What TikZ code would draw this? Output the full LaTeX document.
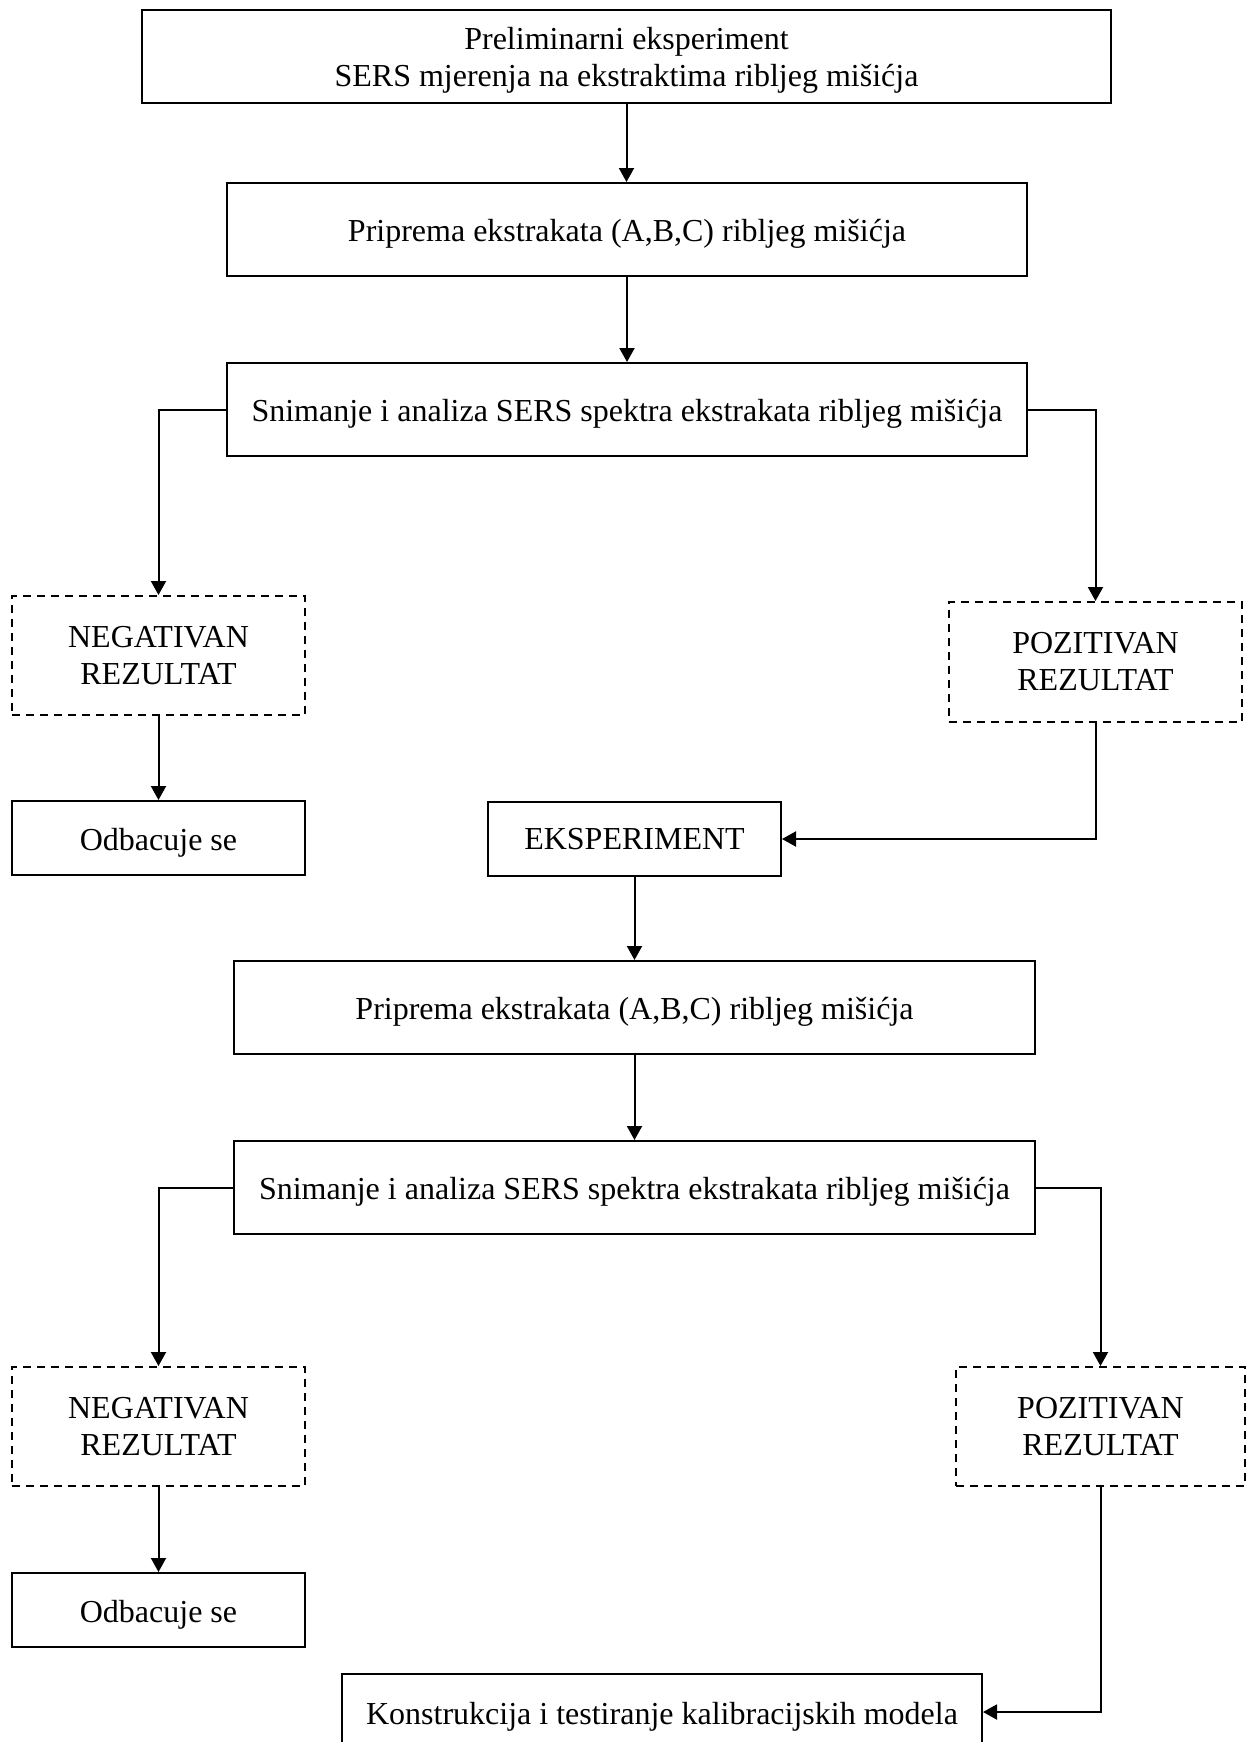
\documentclass[tikz,border=0pt]{standalone}
\usepackage{fontspec}
\setmainfont{Liberation Serif}
\usetikzlibrary{arrows.meta}
\begin{document}
\begin{tikzpicture}[x=0.5pt,y=-0.5pt,
  box/.style={draw, line width=1pt, inner sep=0pt, align=center, font=\fontsize{16}{18.5}\selectfont},
  dbox/.style={box, dashed, dash pattern=on 4pt off 3pt},
  low/.style={text height=15.5pt, text depth=3.5pt},
  arr/.style={draw, line width=1pt, -{Triangle[length=7pt,width=7.5pt]}}]
\useasboundingbox (0,0) rectangle (1247,1742);
\node[box, minimum width=484.5pt, minimum height=46.5pt, text depth=-1pt] (top) at (626.5,56.5) {Preliminarni eksperiment\\SERS mjerenja na ekstraktima ribljeg mišićja};
\node[box, low, minimum width=400pt, minimum height=46.5pt] (prip1) at (627,229.5) {Priprema ekstrakata (A,B,C) ribljeg mišićja};
\node[box, low, minimum width=400pt, minimum height=46.5pt] (snim1) at (627,409.5) {Snimanje i analiza SERS spektra ekstrakata ribljeg mišićja};
\node[dbox, minimum width=146.5pt, minimum height=59.5pt] (neg1) at (158.5,655.5) {NEGATIVAN\\REZULTAT};
\node[box, low, minimum width=146.5pt, minimum height=37pt] (odb1) at (158.5,838) {Odbacuje se};
\node[dbox, minimum width=146.5pt, minimum height=60pt] (poz1) at (1095.5,662) {POZITIVAN\\REZULTAT};
\node[box, minimum width=146.5pt, minimum height=37pt] (eks) at (634.5,839) {EKSPERIMENT};
\node[box, low, minimum width=400.5pt, minimum height=46.5pt] (prip2) at (634.5,1007.5) {Priprema ekstrakata (A,B,C) ribljeg mišićja};
\node[box, low, minimum width=400.5pt, minimum height=46.5pt] (snim2) at (634.5,1187.5) {Snimanje i analiza SERS spektra ekstrakata ribljeg mišićja};
\node[dbox, minimum width=146.5pt, minimum height=59.5pt] (neg2) at (158.5,1426.5) {NEGATIVAN\\REZULTAT};
\node[dbox, minimum width=144.5pt, minimum height=59.5pt] (poz2) at (1100.5,1426.5) {POZITIVAN\\REZULTAT};
\node[box, low, minimum width=146.5pt, minimum height=37pt] (odb2) at (158.5,1610) {Odbacuje se};
\node[box, low, minimum width=320pt, minimum height=38pt] (kon) at (662,1712) {Konstrukcija i testiranje kalibracijskih modela};
\draw[arr] (top.south) -- (top.south |- prip1.north);
\draw[arr] (prip1.south) -- (snim1.north);
\draw[arr] (snim1.west) -| (neg1.north);
\draw[arr] (snim1.east) -| (poz1.north);
\draw[arr] (neg1.south) -- (odb1.north);
\draw[arr] (poz1.south) |- (eks.east);
\draw[arr] (eks.south) -- (eks.south |- prip2.north);
\draw[arr] (prip2.south) -- (snim2.north);
\draw[arr] (snim2.west) -| (neg2.north);
\draw[arr] (snim2.east) -| (poz2.north);
\draw[arr] (neg2.south) -- (odb2.north);
\draw[arr] (poz2.south) |- (kon.east);
\end{tikzpicture}
\end{document}
